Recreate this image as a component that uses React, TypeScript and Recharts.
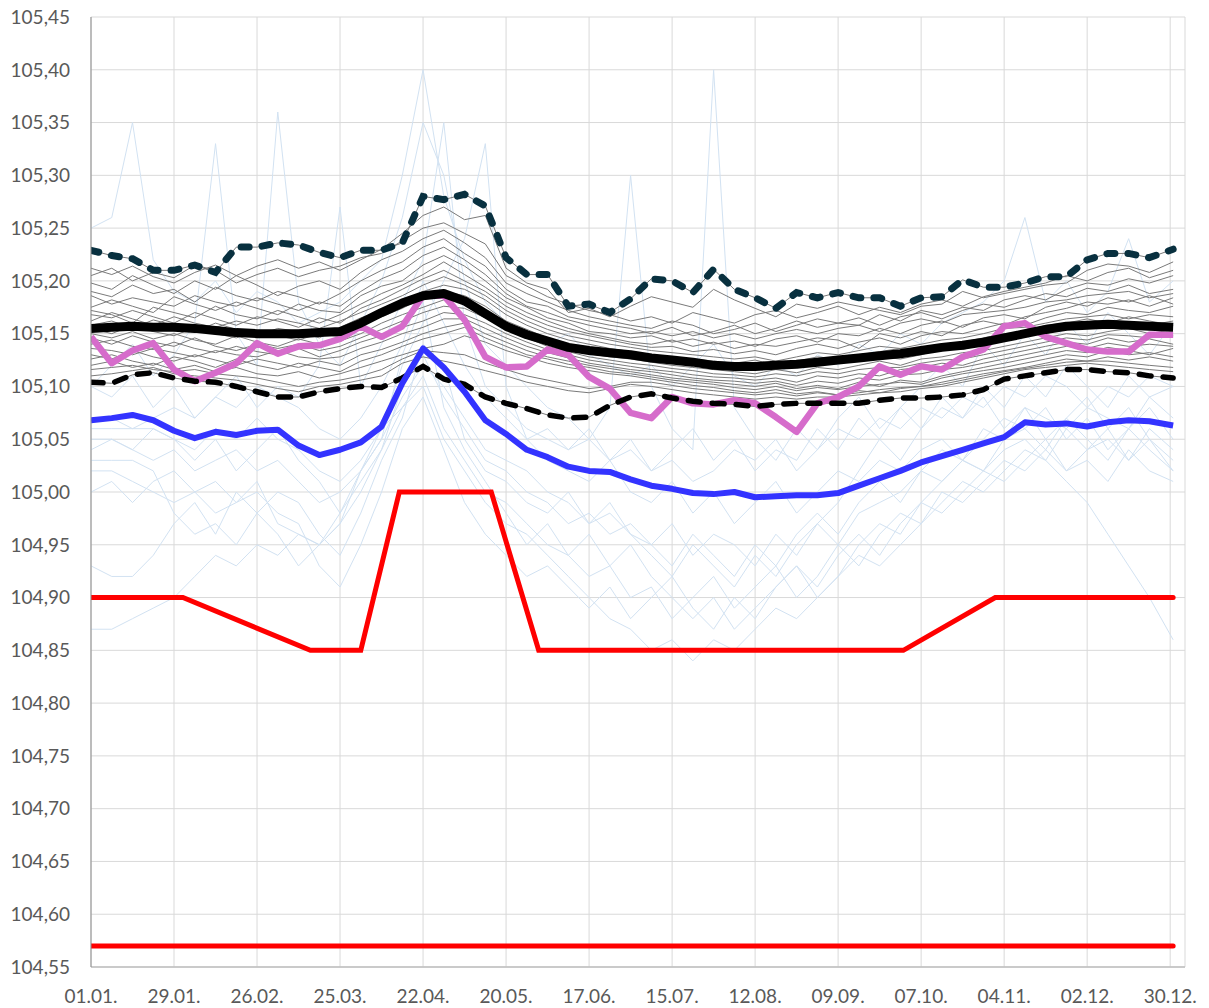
import { CartesianGrid, Line, LineChart, XAxis, YAxis } from 'recharts';

// day of year for every weekly reading
const days = [
	0, 7, 14, 21, 28, 35, 42, 49, 56, 63, 70, 77, 84, 91, 98, 105, 112, 119, 126, 133, 140, 147, 154, 161, 168, 175,
	182, 189, 196, 203, 210, 217, 224, 231, 238, 245, 252, 259, 266, 273, 280, 287, 294, 301, 308, 315, 322, 329, 336,
	343, 350, 357, 365,
];

const dateTicks = [0, 28, 56, 84, 112, 140, 168, 196, 224, 252, 280, 308, 336, 364];
const dateLabels = [
	'01.01.', '29.01.', '26.02.', '25.03.', '22.04.', '20.05.', '17.06.',
	'15.07.', '12.08.', '09.09.', '07.10.', '04.11.', '02.12.', '30.12.',
];
const levelTicks = [
	104.55, 104.6, 104.65, 104.7, 104.75, 104.8, 104.85, 104.9, 104.95, 105.0,
	105.05, 105.1, 105.15, 105.2, 105.25, 105.3, 105.35, 105.4, 105.45,
];

const meanLevel = [
	105.155, 105.156, 105.157, 105.156, 105.156, 105.155, 105.153, 105.151, 105.15, 105.15,
	105.15, 105.151, 105.152, 105.16, 105.17, 105.179, 105.186, 105.188, 105.181, 105.169,
	105.157, 105.149, 105.143, 105.137, 105.134, 105.132, 105.13, 105.127, 105.125, 105.123,
	105.12, 105.119, 105.119, 105.12, 105.121, 105.123, 105.125, 105.127, 105.129, 105.131,
	105.134, 105.137, 105.139, 105.142, 105.146, 105.15, 105.154, 105.157, 105.158, 105.159,
	105.158, 105.157, 105.156,
];
const maxLevel = [
	105.229, 105.224, 105.221, 105.21, 105.21, 105.215, 105.208, 105.232, 105.232, 105.236,
	105.234, 105.227, 105.222, 105.229, 105.229, 105.236, 105.28, 105.277, 105.282, 105.271,
	105.222, 105.206, 105.206, 105.176, 105.178, 105.17, 105.183, 105.202, 105.2, 105.189,
	105.211, 105.192, 105.184, 105.174, 105.189, 105.184, 105.189, 105.184, 105.184, 105.176,
	105.184, 105.185, 105.201, 105.194, 105.194, 105.198, 105.204, 105.204, 105.22, 105.226,
	105.226, 105.222, 105.23,
];
const minLevel = [
	105.104, 105.103, 105.111, 105.113, 105.108, 105.105, 105.104, 105.1, 105.095, 105.09,
	105.09, 105.095, 105.098, 105.1, 105.099, 105.108, 105.119, 105.107, 105.102, 105.09,
	105.084, 105.079, 105.073, 105.07, 105.071, 105.082, 105.09, 105.093, 105.089, 105.086,
	105.084, 105.083, 105.081, 105.083, 105.084, 105.084, 105.084, 105.084, 105.087, 105.089,
	105.089, 105.09, 105.092, 105.097, 105.107, 105.11, 105.113, 105.116, 105.116, 105.114,
	105.113, 105.11, 105.108,
];
const currentYear = [
	105.147, 105.122, 105.134, 105.141, 105.116, 105.105, 105.113, 105.122, 105.141, 105.131,
	105.138, 105.139, 105.145, 105.157, 105.147, 105.157, 105.186, 105.186, 105.163, 105.128,
	105.118, 105.119, 105.135, 105.13, 105.109, 105.098, 105.075, 105.07, 105.09, 105.084,
	105.083, 105.087, 105.084, 105.071, 105.057, 105.084, 105.09, 105.1, 105.119, 105.111,
	105.119, 105.116, 105.128, 105.135, 105.157, 105.16, 105.147, 105.141, 105.135, 105.133,
	105.133, 105.149, 105.149,
];
const otherMean = [
	105.068, 105.07, 105.073, 105.068, 105.058, 105.051, 105.057, 105.054, 105.058, 105.059,
	105.044, 105.035, 105.04, 105.047, 105.062, 105.103, 105.136, 105.118, 105.095, 105.068,
	105.055, 105.04, 105.033, 105.024, 105.02, 105.019, 105.012, 105.006, 105.003, 104.999,
	104.998, 105.0, 104.995, 104.996, 104.997, 104.997, 104.999, 105.006, 105.013, 105.02,
	105.028, 105.034, 105.04, 105.046, 105.052, 105.066, 105.064, 105.065, 105.062, 105.066,
	105.068, 105.067, 105.063,
];

// single years, gray
const grayYears = [
	[105.205, 105.212, 105.2, 105.208, 105.203, 105.215, 105.21, 105.198, 105.206, 105.212, 105.204, 105.21, 105.214, 105.222, 105.226, 105.238, 105.25, 105.255, 105.245, 105.235, 105.205, 105.195, 105.185, 105.178, 105.172, 105.168, 105.162, 105.166, 105.16, 105.17, 105.165, 105.16, 105.168, 105.172, 105.165, 105.17, 105.176, 105.168, 105.175, 105.17, 105.178, 105.182, 105.176, 105.185, 105.19, 105.194, 105.198, 105.205, 105.2, 105.208, 105.212, 105.203, 105.21],
	[105.19, 105.185, 105.196, 105.188, 105.192, 105.18, 105.194, 105.186, 105.181, 105.19, 105.185, 105.178, 105.188, 105.2, 105.21, 105.218, 105.232, 105.24, 105.226, 105.214, 105.192, 105.18, 105.176, 105.166, 105.162, 105.158, 105.155, 105.15, 105.156, 105.148, 105.152, 105.158, 105.15, 105.155, 105.162, 105.156, 105.16, 105.165, 105.158, 105.166, 105.17, 105.164, 105.172, 105.178, 105.175, 105.182, 105.188, 105.185, 105.193, 105.19, 105.196, 105.188, 105.192],
	[105.175, 105.182, 105.176, 105.17, 105.185, 105.178, 105.172, 105.18, 105.174, 105.168, 105.178, 105.172, 105.17, 105.186, 105.195, 105.2, 105.215, 105.224, 105.214, 105.2, 105.184, 105.175, 105.165, 105.16, 105.152, 105.15, 105.146, 105.148, 105.142, 105.145, 105.14, 105.143, 105.138, 105.145, 105.148, 105.142, 105.15, 105.148, 105.155, 105.15, 105.158, 105.162, 105.156, 105.165, 105.168, 105.164, 105.175, 105.18, 105.176, 105.184, 105.18, 105.186, 105.178],
	[105.168, 105.165, 105.172, 105.166, 105.16, 105.17, 105.164, 105.158, 105.166, 105.162, 105.156, 105.165, 105.16, 105.174, 105.182, 105.192, 105.202, 105.21, 105.2, 105.19, 105.176, 105.166, 105.158, 105.152, 105.148, 105.144, 105.14, 105.137, 105.138, 105.133, 105.135, 105.131, 105.134, 105.13, 105.136, 105.14, 105.136, 105.142, 105.146, 105.14, 105.148, 105.152, 105.15, 105.155, 105.16, 105.158, 105.165, 105.17, 105.168, 105.175, 105.172, 105.17, 105.176],
	[105.158, 105.162, 105.155, 105.163, 105.158, 105.152, 105.16, 105.154, 105.148, 105.155, 105.152, 105.146, 105.156, 105.165, 105.172, 105.18, 105.19, 105.196, 105.192, 105.182, 105.168, 105.158, 105.15, 105.144, 105.14, 105.136, 105.133, 105.13, 105.128, 105.126, 105.124, 105.122, 105.125, 105.12, 105.124, 105.128, 105.126, 105.13, 105.133, 105.136, 105.134, 105.14, 105.142, 105.146, 105.15, 105.152, 105.158, 105.16, 105.164, 105.16, 105.166, 105.162, 105.158],
	[105.15, 105.146, 105.152, 105.145, 105.15, 105.144, 105.14, 105.148, 105.142, 105.138, 105.145, 105.14, 105.143, 105.15, 105.16, 105.168, 105.175, 105.182, 105.18, 105.17, 105.158, 105.15, 105.142, 105.136, 105.131, 105.128, 105.126, 105.123, 105.12, 105.118, 105.116, 105.114, 105.112, 105.116, 105.113, 105.118, 105.116, 105.12, 105.124, 105.12, 105.126, 105.128, 105.132, 105.134, 105.138, 105.142, 105.146, 105.15, 105.148, 105.152, 105.155, 105.15, 105.154],
	[105.14, 105.144, 105.138, 105.135, 105.142, 105.136, 105.132, 105.138, 105.133, 105.13, 105.136, 105.128, 105.134, 105.142, 105.148, 105.156, 105.162, 105.17, 105.168, 105.16, 105.15, 105.142, 105.135, 105.13, 105.125, 105.122, 105.119, 105.116, 105.114, 105.111, 105.109, 105.108, 105.106, 105.108, 105.104, 105.11, 105.108, 105.112, 105.11, 105.116, 105.118, 105.122, 105.12, 105.126, 105.13, 105.134, 105.138, 105.142, 105.14, 105.146, 105.142, 105.145, 105.14],
	[105.13, 105.126, 105.134, 105.128, 105.124, 105.13, 105.125, 105.12, 105.126, 105.122, 105.118, 105.124, 105.12, 105.13, 105.135, 105.142, 105.15, 105.156, 105.16, 105.15, 105.142, 105.134, 105.128, 105.124, 105.12, 105.117, 105.114, 105.111, 105.108, 105.106, 105.104, 105.102, 105.1, 105.103, 105.098, 105.101, 105.098, 105.104, 105.1, 105.106, 105.104, 105.11, 105.114, 105.118, 105.122, 105.126, 105.13, 105.134, 105.132, 105.137, 105.134, 105.13, 105.136],
	[105.12, 105.124, 105.118, 105.122, 105.116, 105.12, 105.114, 105.118, 105.112, 105.11, 105.114, 105.108, 105.112, 105.118, 105.124, 105.13, 105.136, 105.14, 105.148, 105.142, 105.134, 105.128, 105.122, 105.118, 105.115, 105.112, 105.11, 105.107, 105.104, 105.101, 105.099, 105.096, 105.094, 105.097, 105.093, 105.095, 105.092, 105.096, 105.094, 105.098, 105.1, 105.104, 105.108, 105.112, 105.115, 105.118, 105.122, 105.126, 105.124, 105.128, 105.125, 105.128, 105.124],
	[105.11, 105.112, 105.115, 105.118, 105.112, 105.11, 105.108, 105.106, 105.102, 105.098, 105.095, 105.1, 105.102, 105.106, 105.11, 105.122, 105.128, 105.124, 105.12, 105.115, 105.11, 105.104, 105.1, 105.096, 105.094, 105.098, 105.102, 105.1, 105.097, 105.094, 105.092, 105.09, 105.088, 105.09, 105.088, 105.09, 105.09, 105.092, 105.094, 105.095, 105.098, 105.1, 105.104, 105.108, 105.112, 105.116, 105.118, 105.12, 105.122, 105.12, 105.118, 105.116, 105.114],
	[105.198, 105.192, 105.205, 105.196, 105.188, 105.2, 105.192, 105.205, 105.196, 105.186, 105.195, 105.2, 105.192, 105.208, 105.22, 105.228, 105.24, 105.248, 105.236, 105.222, 105.198, 105.188, 105.18, 105.172, 105.166, 105.162, 105.158, 105.155, 105.162, 105.158, 105.15, 105.154, 105.16, 105.152, 105.158, 105.164, 105.16, 105.158, 105.168, 105.162, 105.172, 105.168, 105.175, 105.172, 105.182, 105.186, 105.182, 105.192, 105.198, 105.196, 105.202, 105.198, 105.205],
	[105.172, 105.168, 105.16, 105.175, 105.17, 105.165, 105.176, 105.168, 105.164, 105.172, 105.166, 105.16, 105.168, 105.178, 105.188, 105.196, 105.206, 105.218, 105.206, 105.194, 105.18, 105.17, 105.162, 105.155, 105.15, 105.146, 105.142, 105.14, 105.144, 105.138, 105.142, 105.136, 105.14, 105.138, 105.142, 105.146, 105.144, 105.136, 105.15, 105.146, 105.152, 105.148, 105.158, 105.162, 105.158, 105.166, 105.17, 105.174, 105.18, 105.178, 105.182, 105.176, 105.184],
	[105.155, 105.15, 105.158, 105.152, 105.148, 105.156, 105.15, 105.146, 105.152, 105.148, 105.144, 105.15, 105.147, 105.158, 105.166, 105.174, 105.184, 105.19, 105.186, 105.176, 105.162, 105.154, 105.146, 105.14, 105.136, 105.132, 105.13, 105.127, 105.124, 105.122, 105.12, 105.118, 105.12, 105.118, 105.122, 105.12, 105.124, 105.126, 105.128, 105.126, 105.13, 105.136, 105.135, 105.14, 105.144, 105.148, 105.15, 105.155, 105.158, 105.156, 105.16, 105.158, 105.162],
	[105.126, 105.13, 105.124, 105.12, 105.128, 105.124, 105.118, 105.126, 105.12, 105.116, 105.122, 105.118, 105.114, 105.124, 105.13, 105.138, 105.145, 105.15, 105.156, 105.146, 105.138, 105.13, 105.126, 105.121, 105.118, 105.114, 105.112, 105.109, 105.106, 105.104, 105.102, 105.099, 105.097, 105.1, 105.096, 105.099, 105.097, 105.1, 105.102, 105.104, 105.102, 105.108, 105.112, 105.115, 105.118, 105.122, 105.126, 105.13, 105.128, 105.134, 105.13, 105.132, 105.128],
	[105.212, 105.206, 105.214, 105.204, 105.198, 105.208, 105.215, 105.205, 105.214, 105.22, 105.212, 105.218, 105.21, 105.22, 105.23, 105.245, 105.262, 105.27, 105.258, 105.262, 105.212, 105.198, 105.192, 105.17, 105.174, 105.166, 105.176, 105.185, 105.18, 105.175, 105.192, 105.182, 105.174, 105.166, 105.178, 105.174, 105.18, 105.176, 105.172, 105.168, 105.176, 105.178, 105.19, 105.184, 105.188, 105.192, 105.196, 105.198, 105.21, 105.216, 105.214, 105.208, 105.218],
	[105.162, 105.17, 105.164, 105.158, 105.166, 105.16, 105.156, 105.162, 105.158, 105.164, 105.16, 105.155, 105.162, 105.17, 105.178, 105.186, 105.196, 105.204, 105.196, 105.186, 105.172, 105.162, 105.154, 105.148, 105.144, 105.14, 105.137, 105.134, 105.132, 105.13, 105.128, 105.126, 105.128, 105.124, 105.128, 105.132, 105.13, 105.134, 105.138, 105.136, 105.14, 105.144, 105.146, 105.15, 105.155, 105.156, 105.16, 105.164, 105.166, 105.168, 105.164, 105.168, 105.166],
	[105.146, 105.14, 105.148, 105.142, 105.138, 105.146, 105.138, 105.134, 105.14, 105.136, 105.14, 105.134, 105.138, 105.146, 105.154, 105.162, 105.17, 105.176, 105.174, 105.165, 105.154, 105.146, 105.138, 105.133, 105.128, 105.125, 105.122, 105.12, 105.117, 105.115, 105.112, 105.111, 105.109, 105.112, 105.11, 105.114, 105.112, 105.116, 105.118, 105.118, 105.122, 105.125, 105.126, 105.13, 105.134, 105.138, 105.142, 105.146, 105.144, 105.149, 105.148, 105.146, 105.148],
	[105.186, 105.178, 105.184, 105.18, 105.176, 105.186, 105.18, 105.176, 105.184, 105.178, 105.172, 105.18, 105.176, 105.19, 105.202, 105.21, 105.224, 105.232, 105.22, 105.206, 105.188, 105.176, 105.17, 105.163, 105.158, 105.154, 105.15, 105.152, 105.148, 105.152, 105.146, 105.15, 105.145, 105.15, 105.154, 105.15, 105.155, 105.158, 105.152, 105.16, 105.164, 105.16, 105.168, 105.17, 105.172, 105.175, 105.18, 105.182, 105.186, 105.188, 105.19, 105.184, 105.188],
	[105.136, 105.134, 105.13, 105.136, 105.132, 105.128, 105.134, 105.13, 105.128, 105.134, 105.128, 105.126, 105.128, 105.136, 105.142, 105.15, 105.156, 105.164, 105.164, 105.155, 105.146, 105.138, 105.132, 105.127, 105.122, 105.119, 105.116, 105.114, 105.111, 105.108, 105.106, 105.105, 105.103, 105.105, 105.101, 105.105, 105.103, 105.108, 105.106, 105.111, 105.112, 105.116, 105.118, 105.122, 105.126, 105.13, 105.134, 105.138, 105.136, 105.141, 105.138, 105.14, 105.138],
	[105.116, 105.118, 105.12, 105.116, 105.114, 105.116, 105.112, 105.11, 105.108, 105.104, 105.1, 105.104, 105.106, 105.11, 105.116, 105.126, 105.134, 105.132, 105.13, 105.122, 105.116, 105.11, 105.106, 105.102, 105.098, 105.1, 105.104, 105.104, 105.101, 105.098, 105.096, 105.094, 105.092, 105.094, 105.091, 105.094, 105.092, 105.094, 105.097, 105.099, 105.1, 105.102, 105.106, 105.11, 105.114, 105.117, 105.12, 105.123, 105.124, 105.124, 105.122, 105.12, 105.118],
];

// single years of the other gauge, light blue
const paleYears = [
	[105.25, 105.26, 105.35, 105.22, 105.19, 105.18, 105.2, 105.17, 105.19, 105.18, 105.16, 105.17, 105.18, 105.2, 105.22, 105.3, 105.4, 105.28, 105.22, 105.18, 105.16, 105.15, 105.14, 105.15, 105.13, 105.12, 105.11, 105.12, 105.1, 105.12, 105.14, 105.11, 105.1, 105.12, 105.11, 105.13, 105.12, 105.14, 105.13, 105.15, 105.14, 105.16, 105.17, 105.18, 105.2, 105.26, 105.18, 105.2, 105.17, 105.19, 105.24, 105.18, 105.2],
	[105.1, 105.12, 105.14, 105.11, 105.13, 105.16, 105.33, 105.15, 105.12, 105.36, 105.18, 105.14, 105.12, 105.16, 105.2, 105.26, 105.35, 105.3, 105.2, 105.14, 105.12, 105.1, 105.08, 105.07, 105.05, 105.08, 105.3, 105.1, 105.06, 105.04, 105.4, 105.08, 105.05, 105.03, 105.06, 105.04, 105.07, 105.09, 105.06, 105.08, 105.1, 105.12, 105.1, 105.14, 105.12, 105.15, 105.13, 105.16, 105.14, 105.17, 105.15, 105.13, 105.16],
	[105.1, 105.09, 105.11, 105.08, 105.1, 105.07, 105.09, 105.11, 105.08, 105.1, 105.09, 105.12, 105.27, 105.1, 105.14, 105.18, 105.22, 105.35, 105.16, 105.1, 105.08, 105.06, 105.05, 105.04, 105.06, 105.03, 105.05, 105.02, 105.04, 105.06, 105.03, 105.05, 105.02, 105.04, 105.03, 105.06, 105.04, 105.07, 105.05, 105.08, 105.06, 105.09, 105.07, 105.1, 105.08, 105.11, 105.09, 105.12, 105.1, 105.08, 105.11, 105.09, 105.1],
	[105.07, 105.07, 105.06, 105.06, 105.05, 105.04, 105.06, 105.05, 105.07, 105.05, 105.04, 105.02, 105.01, 105.03, 105.06, 105.12, 105.16, 105.2, 105.24, 105.33, 105.1, 105.05, 105.03, 105.02, 105.01, 105.03, 105.0, 104.99, 105.01, 104.98, 105.0, 104.97, 104.99, 105.01, 104.98, 105.0, 105.02, 105.01, 105.03, 105.02, 105.04, 105.05, 105.03, 105.06, 105.05, 105.08, 105.07, 105.06, 105.08, 105.07, 105.06, 105.09, 105.07],
	[105.05, 105.05, 105.04, 105.03, 105.04, 105.02, 105.03, 105.04, 105.02, 105.03, 105.01, 104.99, 105.0, 105.02, 105.05, 105.09, 105.12, 105.1, 105.07, 105.04, 105.03, 105.02, 105.0, 104.99, 104.97, 104.98, 104.96, 104.95, 104.97, 104.94, 104.96, 104.95, 104.93, 104.96, 104.94, 104.97, 104.95, 104.98, 104.99, 105.0, 105.02, 105.01, 105.03, 105.02, 105.04, 105.05, 105.03, 105.06, 105.04, 105.05, 105.03, 105.06, 105.04],
	[105.02, 105.02, 105.01, 105.0, 104.99, 105.0, 104.98, 104.99, 105.01, 104.97, 104.96, 104.95, 104.97, 105.0, 105.04, 105.08, 105.11, 105.06, 105.03, 105.0, 104.99, 104.97, 104.95, 104.94, 104.92, 104.93, 104.9, 104.91, 104.88, 104.9, 104.92, 104.89, 104.91, 104.93, 104.9, 104.92, 104.95, 104.93, 104.96, 104.98, 104.97, 105.0, 104.99, 105.01, 105.03, 105.02, 105.04, 105.02, 105.03, 105.01, 105.04, 105.02, 105.01],
	[104.87, 104.87, 104.88, 104.89, 104.9, 104.92, 104.94, 104.93, 104.95, 104.94, 104.96, 104.95, 104.97, 105.02, 105.06, 105.08, 105.1, 105.05, 105.02, 104.99, 104.97, 104.96, 104.94, 104.92, 104.9, 104.88, 104.87, 104.85, 104.86, 104.84, 104.86, 104.85, 104.87, 104.89, 104.88, 104.9, 104.92, 104.94, 104.93, 104.95, 104.97, 104.99, 105.01, 105.0, 105.02, 105.04, 105.03, 105.01, 104.99, 104.96, 104.93, 104.9, 104.86],
	[105.03, 105.03, 105.03, 105.02, 104.98, 104.96, 104.97, 104.95, 104.98, 105.0, 104.99, 104.96, 104.94, 104.98, 105.03, 105.07, 105.14, 105.12, 105.05, 105.02, 105.01, 104.99, 104.98, 105.0, 104.97, 104.99, 104.96, 104.94, 104.92, 104.95, 104.93, 104.91, 104.94, 104.92, 104.95, 104.97, 104.99, 105.02, 105.05, 105.03, 105.06, 105.08, 105.07, 105.09, 105.06, 105.08, 105.05, 105.07, 105.09, 105.06, 105.08, 105.05, 105.02],
	[104.93, 104.92, 104.92, 104.94, 104.97, 104.99, 104.96, 105.0, 104.98, 104.96, 104.93, 104.95, 104.98, 105.02, 105.05, 105.13, 105.18, 105.08, 105.04, 105.01, 104.98, 104.95, 104.97, 104.94, 104.96, 104.93, 104.95, 104.92, 104.9, 104.88, 104.9, 104.87, 104.89, 104.91, 104.93, 104.9, 104.92, 104.95, 104.97, 104.96, 104.99, 105.01, 105.03, 105.02, 105.05, 105.06, 105.04, 105.07, 105.05, 105.03, 105.06, 105.04, 105.02],
	[105.06, 105.06, 105.06, 105.07, 105.08, 105.07, 105.09, 105.08, 105.1, 105.09, 105.08, 105.06, 105.05, 105.07, 105.1, 105.14, 105.2, 105.16, 105.12, 105.09, 105.07, 105.05, 105.06, 105.04, 105.05, 105.03, 105.04, 105.02, 105.03, 105.01, 105.02, 105.04, 105.03, 105.05, 105.02, 105.04, 105.06, 105.05, 105.07, 105.06, 105.08, 105.07, 105.09, 105.08, 105.1, 105.09, 105.11, 105.1, 105.08, 105.1, 105.09, 105.11, 105.1],
	[105.0, 105.01, 104.99, 105.01, 105.02, 105.0, 105.01, 104.99, 105.0, 104.98, 104.97, 104.93, 104.91, 104.95, 105.0, 105.06, 105.09, 105.04, 104.99, 104.96, 104.94, 104.92, 104.93, 104.91, 104.89, 104.91, 104.88, 104.9, 104.92, 104.89, 104.87, 104.9, 104.88, 104.91, 104.93, 104.91, 104.94, 104.96, 104.94, 104.97, 104.99, 104.98, 105.0, 105.02, 105.01, 105.03, 105.05, 105.02, 105.04, 105.06, 105.03, 105.05, 105.03],
	[105.04, 105.05, 105.04, 105.06, 105.05, 105.03, 105.05, 105.02, 105.04, 105.06, 105.03, 105.01, 104.98, 105.01, 105.04, 105.1, 105.13, 105.09, 105.06, 105.03, 105.02, 105.0, 104.99, 104.97, 104.98, 104.96, 104.97, 104.95, 104.93, 104.96, 104.94, 104.92, 104.95, 104.93, 104.96, 104.98, 104.96, 104.99, 105.01, 104.99, 105.02, 105.04, 105.03, 105.05, 105.07, 105.06, 105.08, 105.05, 105.07, 105.04, 105.06, 105.08, 105.05],
];

// target band (red)
const targetDays = [0, 31, 74, 91, 104, 135, 151, 274, 305, 365];
const targetLevel = [104.9, 104.9, 104.85, 104.85, 105.0, 105.0, 104.85, 104.85, 104.9, 104.9];
const floorDays = [0, 365];
const floorLevel = [104.57, 104.57];

const rows = days.map((day, i) => {
	const row: Record<string, number> = {
		day,
		mean: meanLevel[i],
		max: maxLevel[i],
		min: minLevel[i],
		current: currentYear[i],
		other: otherMean[i],
	};
	grayYears.forEach((s, k) => (row[`g${k}`] = s[i]));
	paleYears.forEach((s, k) => (row[`p${k}`] = s[i]));
	return row;
});
const targetRows = targetDays.map((day, i) => ({ day, v: targetLevel[i] }));
const floorRows = floorDays.map((day, i) => ({ day, v: floorLevel[i] }));

const tickStyle = { fill: '#595959', fontSize: 19, fontFamily: 'Lato, sans-serif' };
const base = { type: 'linear' as const, dot: false, activeDot: false, isAnimationActive: false };

export default function App() {
	return (
		<div>
			<style>{'.recharts-surface { overflow: visible; }'}</style>
			<LineChart data={rows} height={1000} margin={{ bottom: 0, left: 0, right: 24, top: 9 }} width={1201}>
				<CartesianGrid stroke="#d9d9d9" />
				<XAxis
					allowDataOverflow
					axisLine={{ stroke: '#bfbfbf', strokeWidth: 1.5 }}
					dataKey="day"
					domain={[0, 369]}
					height={41}
					interval={0}
					tick={tickStyle}
					tickFormatter={(d: number) => dateLabels[dateTicks.indexOf(d)]}
					tickLine={false}
					tickMargin={23}
					tickSize={0}
					ticks={dateTicks}
					type="number"
				/>
				<YAxis
					allowDataOverflow
					axisLine={{ stroke: '#8c8c8c' }}
					domain={[104.55, 105.45]}
					interval={0}
					tick={tickStyle}
					tickFormatter={(v: number) => v.toFixed(2).replace('.', ',')}
					tickLine={false}
					tickMargin={21}
					tickSize={0}
					ticks={levelTicks}
					type="number"
					width={83}
				/>
				{paleYears.map((_, k) => (
					<Line {...base} dataKey={`p${k}`} key={`p${k}`} stroke="#d2e2f2" strokeWidth={1} />
				))}
				{grayYears.map((_, k) => (
					<Line {...base} dataKey={`g${k}`} key={`g${k}`} stroke="#7a7a7a" strokeWidth={1} />
				))}
				<Line {...base} dataKey="min" stroke="#7a7a7a" strokeWidth={1} />
				<Line {...base} dataKey="max" stroke="#7a7a7a" strokeWidth={1} />
				<Line {...base} data={floorRows} dataKey="v" stroke="#ff0000" strokeLinecap="round" strokeWidth={5} />
				<Line {...base} data={targetRows} dataKey="v" stroke="#ff0000" strokeLinecap="round" strokeWidth={5} />
				<Line {...base} dataKey="current" stroke="#d66ccb" strokeLinejoin="round" strokeWidth={6.5} />
				<Line
					{...base}
					dataKey="min"
					stroke="#000000"
					strokeDasharray="12 12"
					strokeLinecap="round"
					strokeWidth={5.5}
				/>
				<Line {...base} dataKey="other" stroke="#3333ff" strokeLinejoin="round" strokeWidth={6} />
				<Line
					{...base}
					dataKey="max"
					stroke="#08303f"
					strokeDasharray="8 13"
					strokeLinecap="round"
					strokeWidth={7}
				/>
				<Line {...base} dataKey="mean" stroke="#000000" strokeLinejoin="round" strokeWidth={9} />
			</LineChart>
		</div>
	);
}
